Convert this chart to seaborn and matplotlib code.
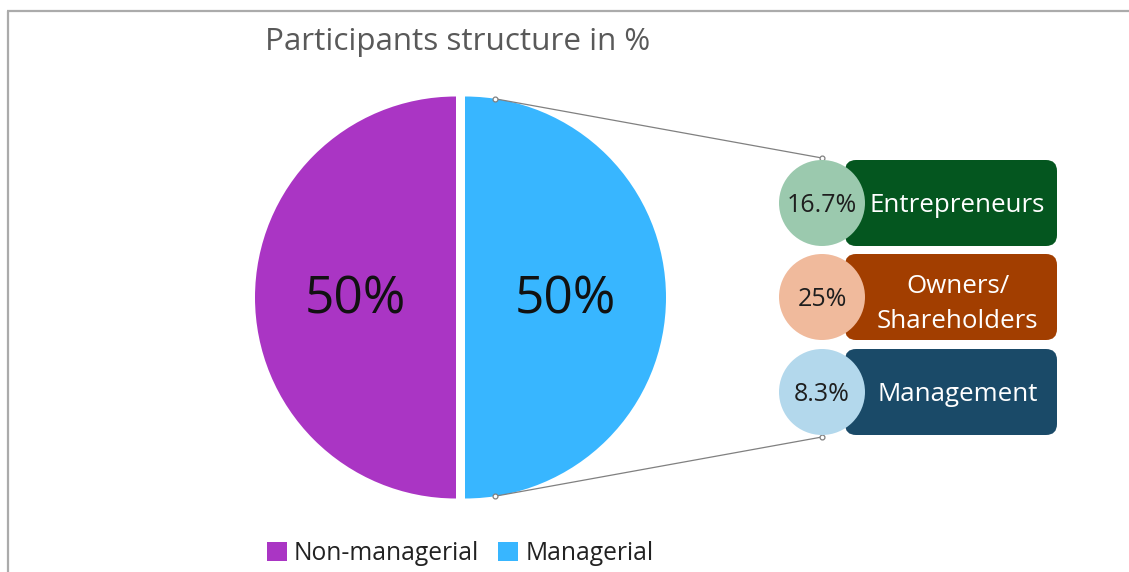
import numpy as np
import matplotlib
matplotlib.use("Agg")
import matplotlib.pyplot as plt
from matplotlib.patches import Circle, FancyBboxPatch
import seaborn as sns

# ---- data ----
main_labels = ["Non-managerial", "Managerial"]
main_values = [50, 50]
main_colors = ["#AA35C4", "#38B6FF"]

sub_labels = ["Entrepreneurs", "Owners/\nShareholders", "Management"]
sub_values = [16.7, 25, 8.3]
sub_circle_colors = ["#9BC9AE", "#F0BA9C", "#B3D8EC"]
sub_box_colors = ["#04561F", "#A23E00", "#1A4A68"]

title = "Participants structure in %"

sns.set_theme(style="white")
plt.rcParams["font.family"] = ["Open Sans", "DejaVu Sans"]

W, H = 1129, 572
fig = plt.figure(figsize=(W / 100, H / 100), dpi=100)
ax = fig.add_axes([0, 0, 1, 1])

def Y(y):
    return H - y

# main pie
R = 201
cx, cy = 460.5, 297.5
gap = 4.5
wedges, texts, autotexts = ax.pie(
    main_values, colors=main_colors, startangle=90, counterclock=True,
    explode=[gap, gap], radius=R, center=(cx, Y(cy)), frame=True,
    autopct=lambda p: f"{p:.0f}%", pctdistance=0.5,
    textprops=dict(fontsize=37, color="#111111"),
    wedgeprops=dict(linewidth=0),
)
for t in autotexts:
    t.set_va("baseline")
    t.set_y(Y(313))

# sub-breakdown circles and boxes
circ_x = 822
circ_ys = [203, 297, 392]
circ_r = 43
box_x0, box_x1 = 845, 1057
box_h = 86
for val, lab, cc, bc, yy in zip(sub_values, sub_labels, sub_circle_colors, sub_box_colors, circ_ys):
    box = FancyBboxPatch((box_x0, Y(yy) - box_h / 2), box_x1 - box_x0, box_h,
                         boxstyle="round,pad=0,rounding_size=11",
                         facecolor=bc, edgecolor="none", zorder=3)
    ax.add_patch(box)
    ax.add_patch(Circle((circ_x, Y(yy)), circ_r, facecolor=cc, edgecolor="none", zorder=4))
    ax.text(circ_x, Y(yy + 9), f"{val:g}%", ha="center", va="baseline", fontsize=18,
            color="#1E1E1E", zorder=5)
    lines = lab.split("\n")
    n = len(lines)
    off = 9 + (4.5 if n > 1 else 0)
    for i, ln in enumerate(lines):
        by = yy + off + (i - (n - 1) / 2) * 35
        ax.text(957.5, Y(by), ln, ha="center", va="baseline", fontsize=18.6,
                color="white", zorder=5)

# connector lines from the managerial half to the breakdown
ang = np.deg2rad(81.5)
px = cx + gap + R * np.cos(ang)
top_pt = (px, Y(cy) + R * np.sin(ang))
bot_pt = (px, Y(cy) - R * np.sin(ang))
for p0, p1 in [(top_pt, (circ_x, Y(circ_ys[0] - circ_r - 2))),
               (bot_pt, (circ_x, Y(circ_ys[-1] + circ_r + 2)))]:
    ax.plot([p0[0], p1[0]], [p0[1], p1[1]], color="#808080", lw=0.9, zorder=2,
            marker="o", markersize=3.5, mfc="white", mec="#808080", mew=0.9)

# title
ax.text(265, Y(50), title, ha="left", va="baseline", fontsize=22.6, color="#595959")

# frame lines
ax.plot([7, W], [Y(11), Y(11)], color="#ABABAB", lw=1.6, solid_capstyle="butt")
ax.plot([7.5, 7.5], [Y(11), 0], color="#ABABAB", lw=1.6, solid_capstyle="butt")

ax.set_xlim(0, W)
ax.set_ylim(0, H)
ax.set_aspect("equal")
ax.axis("off")

ax.legend(wedges, main_labels, loc="center left", bbox_to_anchor=(267 / W, 1 - 553.5 / H),
          bbox_transform=fig.transFigure, ncol=2, frameon=False, fontsize=17.7,
          handlelength=0.8, handleheight=0.8, handletextpad=0.3, columnspacing=0.78,
          borderpad=0, borderaxespad=0, labelcolor="#222222")

fig.savefig("out.png", dpi=100)
